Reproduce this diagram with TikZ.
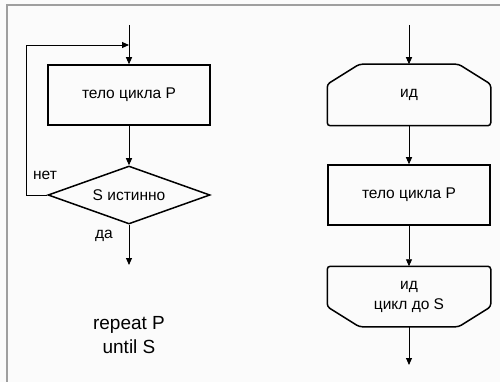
\documentclass[tikz,border=0pt]{standalone}
\usepackage{fontspec}
\setmainfont{Liberation Sans}
\usetikzlibrary{arrows.meta, calc, shapes.geometric, positioning}

\tikzset{
  flowbox/.style={rectangle, draw, line width=1.5pt, minimum width=162pt, minimum height=60pt, inner sep=0pt, font=\fontsize{15.5}{19}\selectfont},
  flowhex/.style={flowbox, draw=none, align=center},
  flowcond/.style={diamond, draw, line width=1.5pt, aspect=2.8, minimum width=162pt, minimum height=58pt, inner sep=0pt, font=\fontsize{15.5}{19}\selectfont},
  flowline/.style={line width=0.9pt, -{Triangle[length=7pt, width=6pt]}},
  flowlabel/.style={font=\fontsize{15.5}{19}\selectfont}
}

\begin{document}
\begin{tikzpicture}[x=1pt, y=-1pt]
  % page and frame
  \useasboundingbox (0,0) rectangle (500,382);
  \fill[gray!3] (0,0) rectangle (500,382);
  \draw[gray!75, line width=1.8pt] (7,382) -- (7,5) -- (500,5);
  % repeat loop (left)
  \coordinate (entryL) at (129,25);
  \coordinate (joinL) at (129,45);
  \node[flowbox] (bodyL) at (129,95) {тело цикла P};
  \node[flowcond] (condL) at (129,195) {S истинно};
  \coordinate (exitL) at (129,265);
  \draw[flowline] (entryL) -- (bodyL.north);
  \draw[flowline] (bodyL.south) -- (condL.north);
  \draw[flowline] (condL.west) -- ++(-21,0) |- (joinL);
  \draw[flowline] (condL.south) -- (exitL);
  \node[flowlabel] (noL) at (45,175) {нет};
  \node[flowlabel] (yesL) at (104,236) {да};
  \node[align=center, font=\fontsize{19}{24}\selectfont] (codeL) at (129,335) {repeat P\\until S};
  % loop with limits (right)
  \coordinate (entryR) at (409,25);
  \node[flowhex] (initR) at (409,95) {ид};
  \node[flowbox] (bodyR) at (409,195) {тело цикла P};
  \node[flowhex, minimum height=59pt, font=\fontsize{15.5}{20}\selectfont] (endR) at (409,296.5) {ид\\цикл до S};
  \coordinate (exitR) at (409,365);
  \draw[line width=1.5pt, rounded corners=3pt] (initR.south west) -- ([yshift=-20pt]initR.north west) -- ([xshift=32pt]initR.north west) -- ([xshift=-32pt]initR.north east) -- ([yshift=-20pt]initR.north east) -- (initR.south east) -- cycle;
  \draw[line width=1.5pt, rounded corners=3pt] (endR.north west) -- ([yshift=20pt]endR.south west) -- ([xshift=32pt]endR.south west) -- ([xshift=-32pt]endR.south east) -- ([yshift=20pt]endR.south east) -- (endR.north east) -- cycle;
  \draw[flowline] (entryR) -- (initR.north);
  \draw[flowline] (initR.south) -- (bodyR.north);
  \draw[flowline] (bodyR.south) -- (endR.north);
  \draw[flowline] (endR.south) -- (exitR);
\end{tikzpicture}
\end{document}
